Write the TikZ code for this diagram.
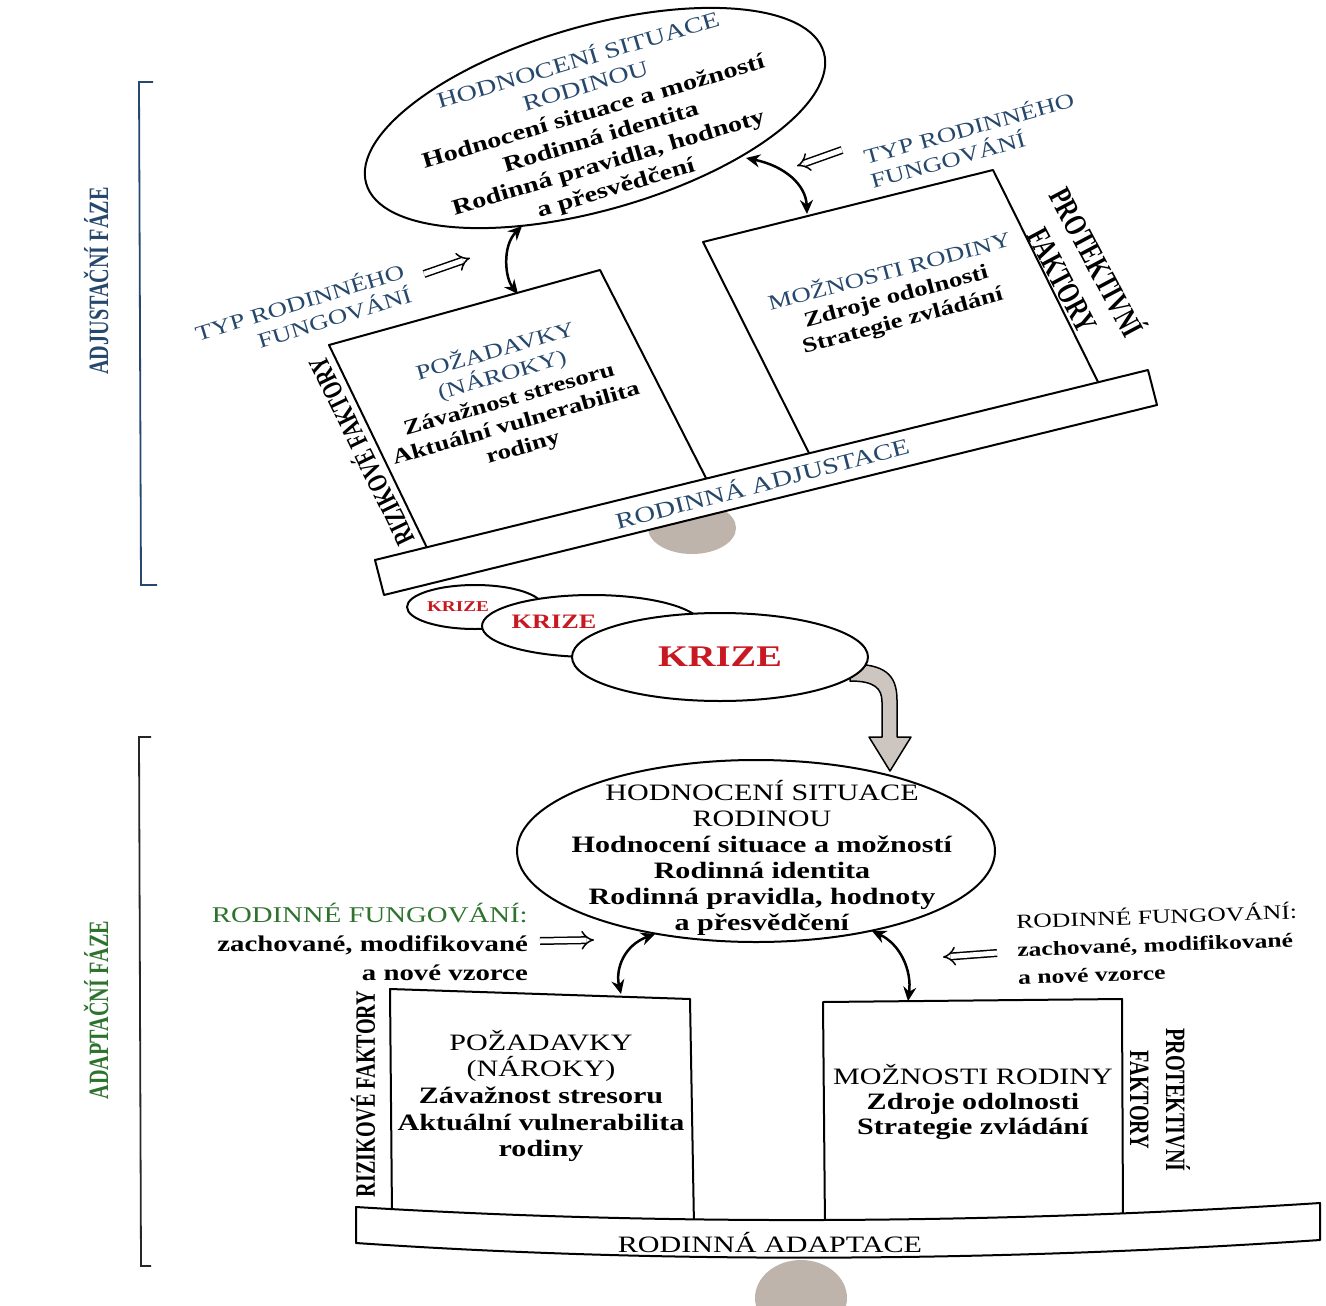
\documentclass[tikz,border=0pt]{standalone}
\usepackage{fontspec}
\setmainfont[FakeStretch=1.28]{Liberation Serif}
\newfontfamily\narrowfont[FakeStretch=0.72]{Liberation Serif}
\usepackage{tikz}
\usetikzlibrary{arrows.meta,shapes.geometric}
\definecolor{adjblue}{RGB}{38,72,108}
\definecolor{adapgreen}{RGB}{45,115,45}
\definecolor{krizered}{RGB}{200,25,35}
\definecolor{pivotgray}{RGB}{190,180,172}
\definecolor{arrowgray}{RGB}{205,198,192}
\newcommand{\blk}[1]{\textcolor{black}{\bfseries #1}}

\begin{document}
\begin{tikzpicture}[x=1pt,y=-1pt,
  plank/.style={draw,line width=2pt,fill=white,line join=round},
  oval/.style={draw,ellipse,line width=2pt,fill=white,inner sep=0pt},
  both/.style={line width=2.5pt,{Stealth[length=14pt,width=13pt]}-{Stealth[length=14pt,width=13pt]}},
  hollow/.style={double,double distance=5pt,line width=1.5pt,-{Implies}},
  txt/.style={align=center,inner sep=0pt,font=\fontsize{23.5}{26}\selectfont},
  toptxt/.style={align=center,inner sep=0pt,text=adjblue,font=\fontsize{21}{25}\selectfont},
  side/.style={align=center,inner sep=0pt,font=\narrowfont\bfseries\fontsize{28}{36}\selectfont},
  krize/.style={text=krizered,inner sep=0pt,font=\bfseries\fontsize{#1}{#1}\selectfont}]
\useasboundingbox (0,0) rectangle (1326,1306);

\draw[line width=1.8pt,adjblue] (153,82) -- (139,82) -- (141,585) -- (157,585);
\node[side,text=adjblue,rotate=90] (adjfaze) at (96,281) {ADJUSTAČNÍ FÁZE};
\draw[line width=1.8pt,black!85] (151,737) -- (139,737) -- (141,1266) -- (151,1266);
\node[side,text=adapgreen,rotate=90] (adapfaze) at (96,1010) {ADAPTAČNÍ FÁZE};

\fill[pivotgray] (692,528) ellipse [x radius=44, y radius=26];
\draw[plank] (329,345) -- (600,270) -- (708,482) -- (429,552) -- cycle;
\draw[plank] (703,242) -- (993,170) -- (1100,386) -- (811,457) -- cycle;
\draw[plank] (375,560) -- (1148,370) -- (1157,405) -- (384,595) -- cycle;
\node[toptxt,rotate=14.5,font=\fontsize{22.5}{25}\selectfont] (adjust) at (762,482) {RODINNÁ ADJUSTACE};
\node[toptxt,rotate=16] (demands1) at (509,399) {POŽADAVKY\\(NÁROKY)\\\blk{Závažnost stresoru}\\\blk{Aktuální vulnerabilita}\\\blk{rodiny}};
\node[toptxt,rotate=15] (options1) at (896,296) {MOŽNOSTI RODINY\\\blk{Zdroje odolnosti}\\\blk{Strategie zvládání}};
\node[side,rotate=116] (risk1) at (360,452) {RIZIKOVÉ FAKTORY};
\node[side,rotate=-62,font=\narrowfont\bfseries\fontsize{32}{38}\selectfont] (protect1) at (1082,270) {PROTEKTIVNÍ\\FAKTORY};

\node[oval,rotate=16,minimum width=476pt,minimum height=184pt] (eval1) at (595,118) {};
\node[toptxt,rotate=16.5,font=\fontsize{22}{26.5}\selectfont] (eval1text) at (597,124) {HODNOCENÍ SITUACE\\RODINOU\\\blk{Hodnocení situace a možností}\\\blk{Rodinná identita}\\\blk{Rodinná pravidla, hodnoty}\\\blk{a přesvědčení}};
\node[toptxt,rotate=15.5,align=left] (typ1r) at (972,139) {TYP RODINNÉHO\\FUNGOVÁNÍ};
\node[toptxt,rotate=17,align=right] (typ1l) at (303,313) {TYP RODINNÉHO\\FUNGOVÁNÍ};

\coordinate (e1l) at (522,226); \coordinate (d1t) at (518,294);
\coordinate (e1r) at (746,158); \coordinate (o1t) at (807,214);
\coordinate (h1l) at (424,274); \coordinate (h1le) at (470,258);
\coordinate (h1r) at (842,150); \coordinate (h1re) at (797,166);
\draw[both] (e1l) .. controls (502,246) and (505,278) .. (d1t);
\draw[both] (e1r) .. controls (785,166) and (806,185) .. (o1t);
\draw[hollow] (h1l) -- (h1le);
\draw[hollow] (h1r) -- (h1re);

\node[oval,minimum width=136pt,minimum height=44pt] (krize1oval) at (475,607) {};
\node[krize=15] (krize1) at (458,607) {KRIZE};
\node[oval,minimum width=220pt,minimum height=62pt] (krize2oval) at (592,626) {};
\node[krize=20.5] (krize2) at (554,622) {KRIZE};
\draw[line width=1.5pt,fill=arrowgray,line join=round] (850,664) .. controls (884,664) and (897,674) .. (897,700) -- (897,737) -- (911,737) -- (890,771) -- (869,737) -- (882,737) -- (882,702) .. controls (882,688) and (874,681) .. (850,681) -- cycle;
\node[oval,minimum width=296pt,minimum height=88pt,krize=30] (krize3) at (720,657) {KRIZE};

\node[oval,minimum width=478pt,minimum height=182pt] (eval2) at (756,851) {};
\node[txt] (eval2text) at (762,858) {HODNOCENÍ SITUACE\\RODINOU\\\textbf{Hodnocení situace a možností}\\\textbf{Rodinná identita}\\\textbf{Rodinná pravidla, hodnoty}\\\textbf{a přesvědčení}};

\fill[pivotgray] (801,1298) ellipse [x radius=46, y radius=38];
\draw[plank] (390,989) -- (690,999) -- (694,1226) -- (392,1216) -- cycle;
\draw[plank] (823,1002) -- (1122,999) -- (1123,1222) -- (825,1228) -- cycle;
\draw[plank] (356,1207) .. controls (650,1225) and (980,1225) .. (1320,1203) -- (1320,1240) .. controls (980,1263) and (650,1263) .. (356,1243) -- cycle;
\node[txt] (adapt) at (770,1243) {RODINNÁ ADAPTACE};
\node[txt,font=\fontsize{23.5}{26.7}\selectfont] (demands2) at (541,1096) {POŽADAVKY\\(NÁROKY)\\\textbf{Závažnost stresoru}\\\textbf{Aktuální vulnerabilita}\\\textbf{rodiny}};
\node[txt,font=\fontsize{23.5}{25}\selectfont] (options2) at (973,1102) {MOŽNOSTI RODINY\\\textbf{Zdroje odolnosti}\\\textbf{Strategie zvládání}};
\node[side,rotate=90] (risk2) at (363,1094) {RIZIKOVÉ FAKTORY};
\node[side,rotate=-90] (protect2) at (1160,1100) {PROTEKTIVNÍ\\FAKTORY};

\node[txt,align=right,anchor=east,font=\fontsize{22.5}{29}\selectfont] (fun2l) at (528,942) {\textcolor{adapgreen}{RODINNÉ FUNGOVÁNÍ:}\\\textbf{zachované, modifikované}\\\textbf{a nové vzorce}};
\node[txt,align=left,anchor=west,rotate=2,font=\fontsize{20}{28}\selectfont] (fun2r) at (1017,948) {RODINNÉ FUNGOVÁNÍ:\\\textbf{zachované, modifikované}\\\textbf{a nové vzorce}};

\coordinate (e2l) at (655,934); \coordinate (d2t) at (621,994);
\coordinate (e2r) at (872,931); \coordinate (o2t) at (908,1001);
\coordinate (h2l) at (540,941); \coordinate (h2le) at (594,940);
\coordinate (h2r) at (997,953); \coordinate (h2re) at (943,957);
\draw[both] (e2l) .. controls (625,945) and (615,968) .. (d2t);
\draw[both] (e2r) .. controls (900,944) and (912,970) .. (o2t);
\draw[hollow] (h2l) -- (h2le);
\draw[hollow] (h2r) -- (h2re);
\end{tikzpicture}
\end{document}
